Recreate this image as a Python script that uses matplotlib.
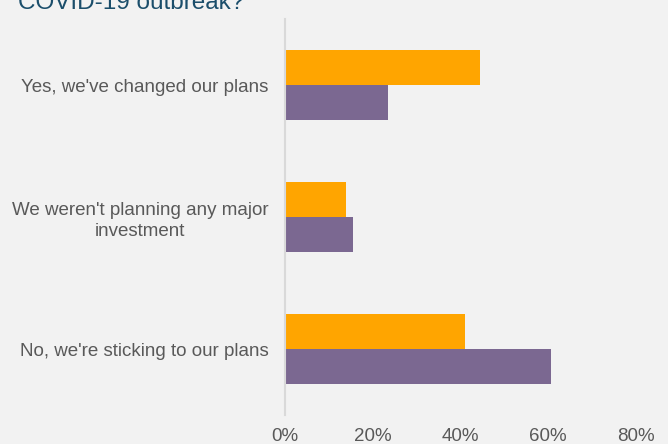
import matplotlib
matplotlib.use("Agg")
import matplotlib.pyplot as plt
import numpy as np

categories = ["Yes, we've changed our plans",
              "We weren't planning any major\ninvestment",
              "No, we're sticking to our plans"]
series_a = [44.5, 14.0, 41.0]   # orange
series_b = [23.5, 15.5, 60.6]   # purple
xticks = [0, 20, 40, 60, 80]
xtick_labels = ["0%", "20%", "40%", "60%", "80%"]

bg = "#F2F2F2"
plt.rcParams['font.family'] = ['Liberation Sans', 'DejaVu Sans']
fig = plt.figure(figsize=(6.68, 4.44), dpi=100, facecolor=bg)
ax = fig.add_axes([285/668, 1-415/444, (636-285)/668, (415-19)/444])
ax.set_facecolor(bg)

y = np.arange(len(categories))
h = 0.262
ax.barh(y - h/2, series_a, height=h, color="#FFA500", zorder=2)
ax.barh(y + h/2, series_b, height=h, color="#7B6891", zorder=2)

ax.set_ylim(len(categories) - 0.5, -0.5)
ax.set_xlim(0, 80)
ax.set_yticks(y)
ax.set_yticklabels(categories, fontsize=13.5, color="#595959",
                   family=['Liberation Sans', 'DejaVu Sans'],
                   multialignment='center', linespacing=1.3)
ax.set_xticks(xticks)
ax.set_xticklabels(xtick_labels, fontsize=13.5, color="#595959",
                   family=['Liberation Sans', 'DejaVu Sans'])
ax.tick_params(axis='y', length=0, pad=12)
ax.tick_params(axis='x', length=0, pad=9)
for s in ["top", "right", "bottom"]:
    ax.spines[s].set_visible(False)
ax.spines["left"].set_color("#D9D9D9")
ax.spines["left"].set_linewidth(1.5)

fig.text(18/668, 1-9/444, "COVID-19 outbreak?", fontsize=17.5, color="#1B4E6B",
         va="baseline", ha="left", family=['Liberation Sans', 'DejaVu Sans'])

fig.savefig("out.png", dpi=100, facecolor=bg)
